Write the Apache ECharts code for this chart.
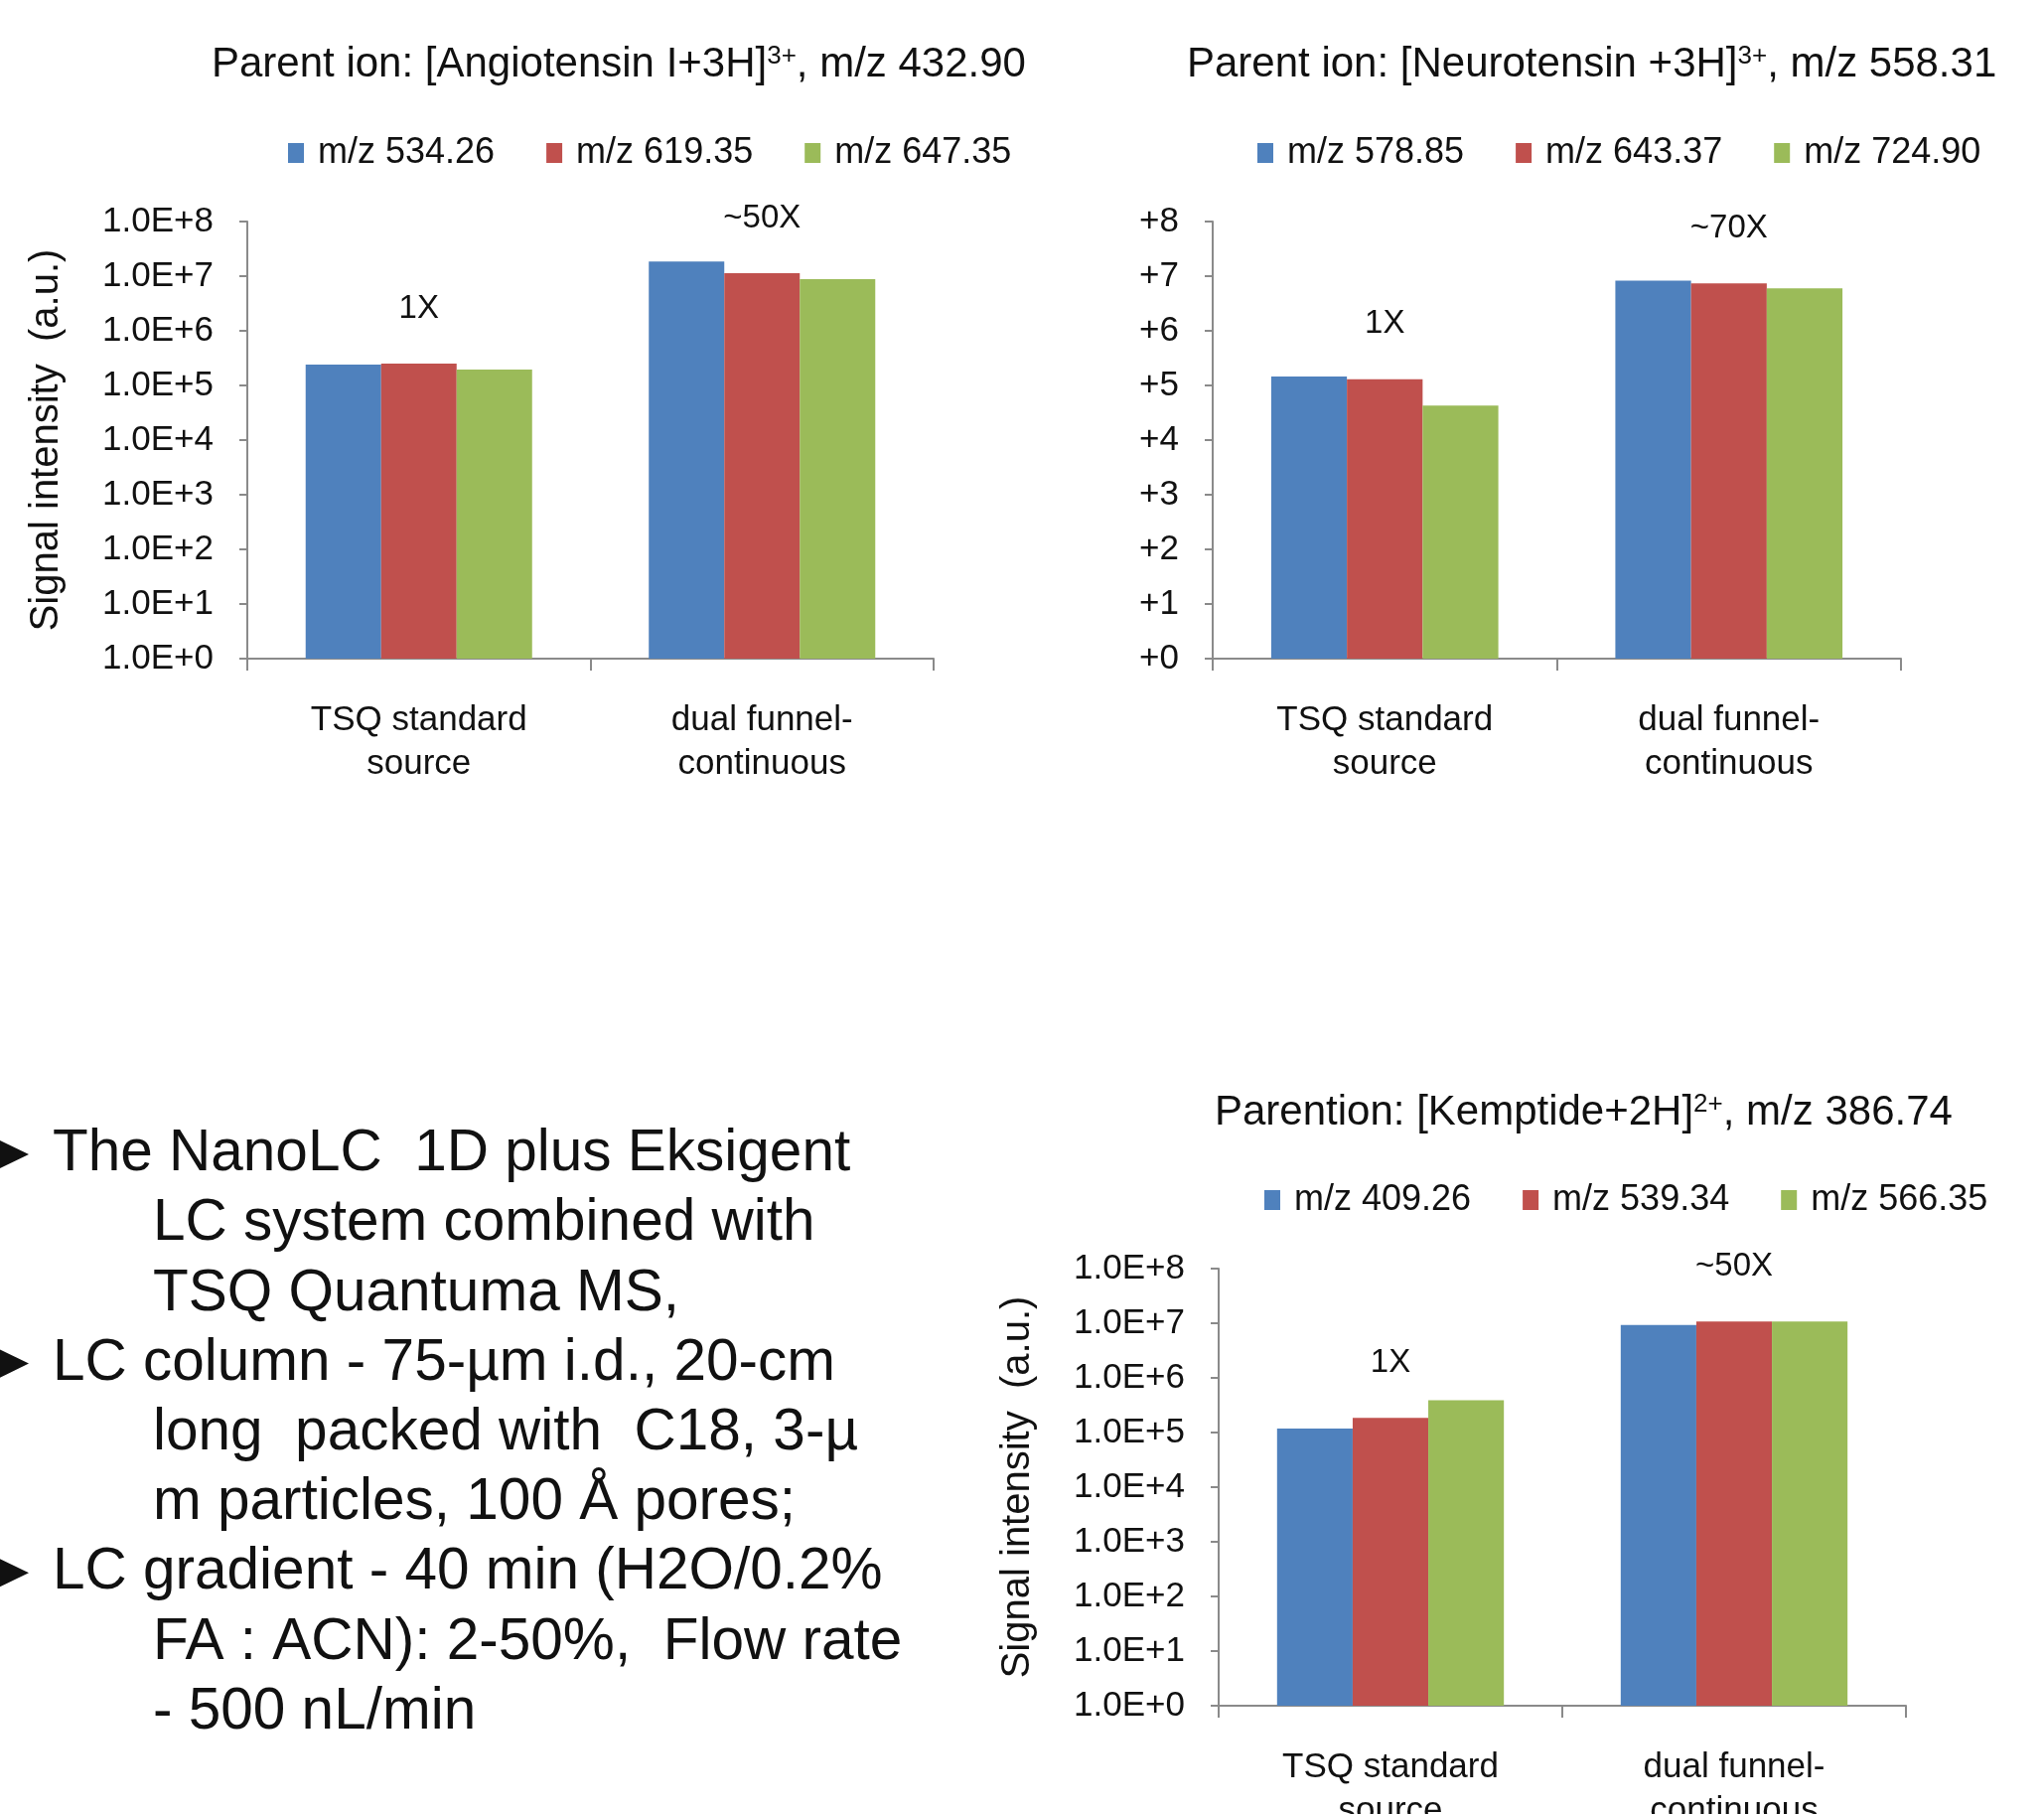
<!DOCTYPE html>
<html>
<head>
<meta charset="utf-8">
<script src="https://cdn.jsdelivr.net/npm/echarts@6/dist/echarts.min.js"></script>
<style>
  html, body { margin: 0; padding: 0; background: #ffffff; }
  #main { width: 2058px; height: 1826px; }
</style>
</head>
<body>
<div id="main"></div>
<script>
// ---- data ----
const categories = ['TSQ standard\nsource', 'dual funnel-\ncontinuous'];

// tick labels for the log axes (index = decade exponent)
const logTickLabels = ['1.0E+0', '1.0E+1', '1.0E+2', '1.0E+3', '1.0E+4', '1.0E+5', '1.0E+6', '1.0E+7', '1.0E+8'];
const shortTickLabels = ['+0', '+1', '+2', '+3', '+4', '+5', '+6', '+7', '+8'];

// Angiotensin I, parent m/z 432.90
const angioNames = ['m/z 534.26', 'm/z 619.35', 'm/z 647.35'];
const angio534 = [2.4e5, 1.85e7];
const angio619 = [2.5e5, 1.13e7];
const angio647 = [1.96e5, 8.8e6];
const angioGain = ['1X', '~50X'];

// Neurotensin, parent m/z 558.31
const neuroNames = ['m/z 578.85', 'm/z 643.37', 'm/z 724.90'];
const neuro578 = [1.45e5, 8.3e6];
const neuro643 = [1.3e5, 7.4e6];
const neuro724 = [4.3e4, 6.0e6];
const neuroGain = ['1X', '~70X'];

// Kemptide, parent m/z 386.74
const kempNames = ['m/z 409.26', 'm/z 539.34', 'm/z 566.35'];
const kemp409 = [1.18e5, 9.3e6];
const kemp539 = [1.86e5, 1.08e7];
const kemp566 = [3.9e5, 1.08e7];
const kempGain = ['1X', '~50X'];

// experimental notes shown beside the charts
const notes = [
  { bullet: true, text: 'The NanoLC  1D plus Eksigent' },
  { bullet: false, text: 'LC system combined with' },
  { bullet: false, text: 'TSQ Quantuma MS,' },
  { bullet: true, text: 'LC column - 75-\u00b5m i.d., 20-cm' },
  { bullet: false, text: 'long  packed with  C18, 3-\u00b5' },
  { bullet: false, text: 'm particles, 100 \u00c5 pores;' },
  { bullet: true, text: 'LC gradient - 40 min (H2O/0.2%' },
  { bullet: false, text: 'FA : ACN): 2-50%,  Flow rate' },
  { bullet: false, text: '- 500 nL/min' }
];

// ---- styling ----
const FONT = "'Liberation Sans', Arial, sans-serif";
const TEXT = '#111111';
const AXIS = '#8a8a8a';
const COLORS = ['#4F81BD', '#C0504D', '#9BBB59'];

const panels = [
  {
    title: '{m|Parent ion: [Angiotensin I+3H]}{s|3+}{m|, m/z 432.90}',
    titlePos: { left: 208, top: 39 },
    legendPos: { left: 285, top: 131 },
    grid: { left: 249, top: 223, width: 691, height: 440 },
    names: angioNames, values: [angio534, angio619, angio647], gain: angioGain,
    ticks: logTickLabels, yName: 'Signal intensity  (a.u.)'
  },
  {
    title: '{m|Parent ion: [Neurotensin +3H]}{s|3+}{m|, m/z 558.31}',
    titlePos: { left: 1190, top: 39 },
    legendPos: { left: 1261, top: 131 },
    grid: { left: 1221, top: 223, width: 693, height: 440 },
    names: neuroNames, values: [neuro578, neuro643, neuro724], gain: neuroGain,
    ticks: shortTickLabels, yName: ''
  },
  {
    title: '{m|Parention: [Kemptide+2H]}{s|2+}{m|, m/z 386.74}',
    titlePos: { left: 1218, top: 1094 },
    legendPos: { left: 1268, top: 1185 },
    grid: { left: 1227, top: 1277, width: 692, height: 440 },
    names: kempNames, values: [kemp409, kemp539, kemp566], gain: kempGain,
    ticks: logTickLabels, yName: 'Signal intensity  (a.u.)'
  }
];

const option = {
  animation: false,
  backgroundColor: '#ffffff',
  title: [], legend: [], grid: [], xAxis: [], yAxis: [], series: [], graphic: []
};

panels.forEach((p, i) => {
  option.title.push({
    text: p.title,
    left: p.titlePos.left, top: p.titlePos.top,
    textStyle: {
      fontWeight: 'normal',
      rich: {
        m: { fontSize: 42, fontWeight: 'normal', fontFamily: FONT, color: TEXT },
        s: { fontSize: 26, fontWeight: 'normal', fontFamily: FONT, color: TEXT, verticalAlign: 'top' }
      }
    }
  });
  option.legend.push({
    left: p.legendPos.left, top: p.legendPos.top,
    icon: 'rect', itemWidth: 16, itemHeight: 20, itemGap: 52,
    data: p.names,
    textStyle: { fontSize: 36, fontFamily: FONT, color: TEXT, padding: [0, 0, 0, 9] }
  });
  option.grid.push(Object.assign({ containLabel: false, outerBoundsMode: 'none' }, p.grid));
  option.xAxis.push({
    type: 'category', gridIndex: i, data: categories,
    axisLine: { lineStyle: { color: AXIS, width: 2 } },
    axisTick: { show: true, length: 12, lineStyle: { color: AXIS, width: 2 } },
    axisLabel: { interval: 0, fontSize: 35, lineHeight: 44, margin: 40, color: TEXT, fontFamily: FONT },
    splitLine: { show: false }
  });
  option.yAxis.push({
    type: 'log', logBase: 10, gridIndex: i, min: 1, max: 1e8, splitNumber: 8,
    name: p.yName, nameLocation: 'middle', nameGap: 182,
    nameTextStyle: { fontSize: 40, fontFamily: FONT, color: TEXT },
    axisLine: { show: true, lineStyle: { color: AXIS, width: 2 } },
    axisTick: { show: true, length: 8, lineStyle: { color: AXIS, width: 2 } },
    axisLabel: {
      fontSize: 35, margin: 34, color: TEXT, fontFamily: FONT,
      formatter: (v) => p.ticks[Math.round(Math.log10(v))]
    },
    splitLine: { show: false }
  });
  p.values.forEach((vals, k) => {
    const s = {
      type: 'bar', name: p.names[k], xAxisIndex: i, yAxisIndex: i,
      data: vals, barGap: '0%', barCategoryGap: '34%',
      itemStyle: { color: COLORS[k] }
    };
    if (k === 1) {
      s.label = {
        show: true, position: 'top', distance: 39,
        formatter: (d) => p.gain[d.dataIndex],
        fontSize: 33, fontFamily: FONT, color: TEXT
      };
    }
    option.series.push(s);
  });
});

// notes text block with triangle bullets
const LINE0 = 1162, LINE_STEP = 70.2;
notes.forEach((n, i) => {
  const y = LINE0 + i * LINE_STEP;
  option.graphic.push({
    type: 'text',
    style: {
      text: n.text, x: n.bullet ? 53 : 154, y: y,
      fontSize: 58.5, fontFamily: FONT, fill: TEXT, verticalAlign: 'middle', align: 'left'
    }
  });
  if (n.bullet) {
    option.graphic.push({
      type: 'polygon',
      shape: { points: [[-2, y - 15], [29, y], [-2, y + 15]] },
      style: { fill: TEXT }
    });
  }
});

const chart = echarts.init(document.getElementById('main'), null, { renderer: 'canvas' });
chart.setOption(option);
</script>
</body>
</html>
